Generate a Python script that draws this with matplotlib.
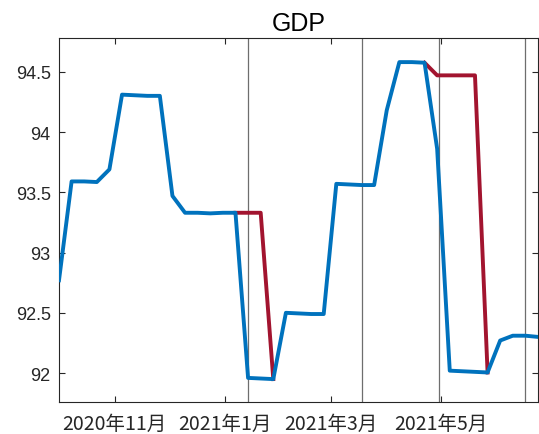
import numpy as np
import pandas as pd
import matplotlib
matplotlib.use('Agg')
import matplotlib.pyplot as plt

nan = np.nan

# weekly nowcast dates
weeks = pd.date_range('2020-10-01', periods=39, freq='7D')

# latest nowcast path (blue)
gdp_latest = [92.77, 93.59, 93.59, 93.585, 93.69, 94.31, 94.305, 94.30, 94.30, 93.47,
              93.33, 93.33, 93.325, 93.33, 93.33, 91.96, 91.955, 91.95, 92.50, 92.495,
              92.49, 92.49, 93.57, 93.565, 93.56, 93.56, 94.18, 94.58, 94.58, 94.575,
              93.86, 92.02, 92.015, 92.01, 92.005, 92.27, 92.31, 92.31, 92.30]

# earlier vintage where it differs (red)
gdp_prev = [nan] * 39
gdp_prev[14:18] = [93.33, 93.33, 93.33, 91.95]
gdp_prev[29:35] = [94.575, 94.47, 94.47, 94.47, 94.47, 92.005]

release_dates = ['2021-01-14', '2021-03-18', '2021-04-30', '2021-06-17']

tick_dates = ['2020-11-01', '2021-01-01', '2021-03-01', '2021-05-01']
tick_labels = ['2020年11月', '2021年1月', '2021年3月', '2021年5月']
y_ticks = [92, 92.5, 93, 93.5, 94, 94.5]
y_labels = ['92', '92.5', '93', '93.5', '94', '94.5']

fig = plt.figure(figsize=(5.39, 4.35), dpi=100)
ax = fig.add_axes([59/539, 32/435, 479/539, 364/435])

for d in release_dates:
    ax.axvline(pd.Timestamp(d), color='#6e6e6e', lw=0.9, zorder=1)

ax.plot(weeks, gdp_prev, color='#A2142F', lw=2.8, zorder=2)
ax.plot(weeks, gdp_latest, color='#0072BD', lw=2.8, zorder=3)

ax.set_xlim(weeks[0], weeks[-1])
ax.set_ylim(91.76, 94.78)

ax.set_xticks([pd.Timestamp(d) for d in tick_dates])
ax.set_xticklabels(tick_labels, family=['Noto Sans CJK JP', 'DejaVu Sans'], fontsize=14)
ax.set_yticks(y_ticks)
ax.set_yticklabels(y_labels, family='Liberation Sans', fontsize=13)

ax.tick_params(direction='in', top=True, right=True, length=4, width=0.8,
               colors='#262626')
ax.tick_params(axis='x', pad=8)
ax.tick_params(axis='y', pad=6)
for s in ax.spines.values():
    s.set_color('#262626')
    s.set_linewidth(0.8)

ax.set_title('GDP', fontsize=18, family='Liberation Sans', pad=6)

fig.savefig('out.png', dpi=100)
